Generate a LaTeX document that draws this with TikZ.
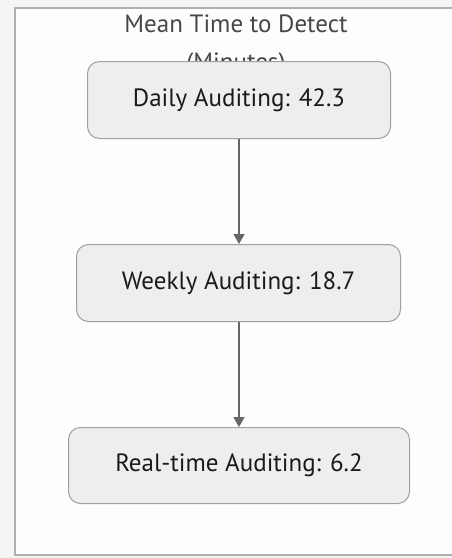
\documentclass[tikz,border=0pt]{standalone}
\usepackage{fontspec}
\setmainfont{PT Sans}
\usetikzlibrary{arrows.meta}
\definecolor{outbg}{HTML}{F4F4F4}
\definecolor{inbg}{HTML}{FDFDFD}
\definecolor{frame}{HTML}{B0B0B0}
\definecolor{boxfill}{HTML}{EEEEEE}
\definecolor{boxline}{HTML}{A0A0A0}
\definecolor{arrowc}{HTML}{666666}
\definecolor{txt}{HTML}{1A1A1A}
\begin{document}
\begin{tikzpicture}[x=1pt,y=-1pt,
  stepbox/.style={draw=boxline, line width=1pt, fill=boxfill, rounded corners=12pt, anchor=north west, inner sep=0pt, font=\fontsize{25}{30}\selectfont, text=txt},
  conn/.style={draw=arrowc, line width=1.4pt, -{Triangle[length=10pt,width=11pt]}}]
\useasboundingbox (0,0) rectangle (452,558);
\fill[outbg] (0,0) rectangle (452,558);
\filldraw[fill=inbg, draw=frame, line width=2pt] (15,8) rectangle (470,555);
\node[font=\fontsize{25}{38}\selectfont, text=black!72, align=center, anchor=north, inner sep=0pt] (title) at (236,15) {Mean Time to Detect\\(Minutes)};
\node[stepbox, minimum width=303pt, minimum height=77pt] (a) at (87,61) {Daily Auditing: 42.3};
\node[stepbox, minimum width=324pt, minimum height=77pt] (b) at (76,244) {Weekly Auditing: 18.7};
\node[stepbox, minimum width=341pt, minimum height=76pt] (c) at (68,427) {Real-time Auditing: 6.2};
\coordinate (ax) at (239,0);
\draw[conn] (a.south -| ax) -- (b.north -| ax);
\draw[conn] (b.south -| ax) -- (c.north -| ax);
\end{tikzpicture}
\end{document}
